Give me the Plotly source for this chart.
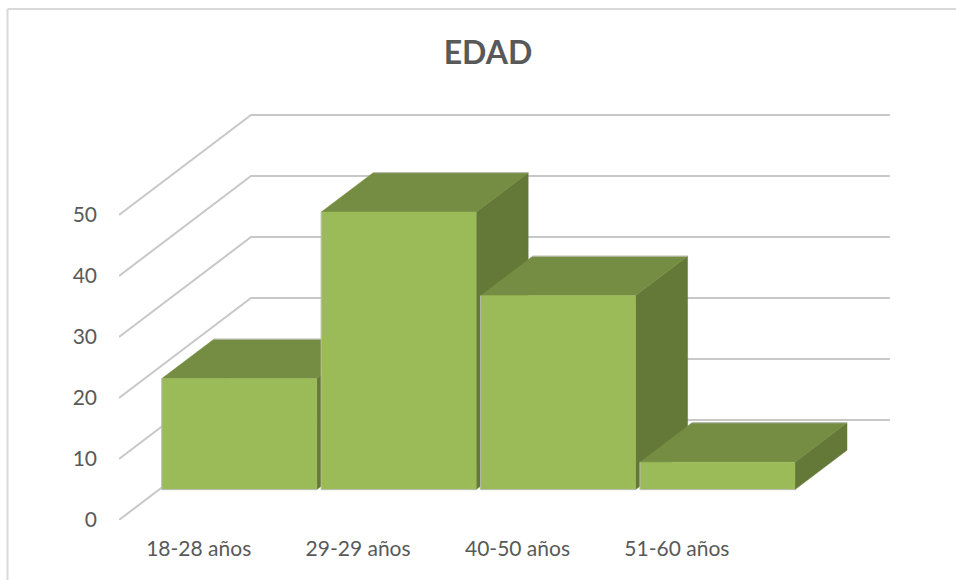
import plotly.graph_objects as go

categories = ["18-28 años", "29-29 años", "40-50 años", "51-60 años"]
values = [18.2, 45.5, 31.8, 4.5]
y_ticks = [0, 10, 20, 30, 40, 50]

W, H = 956, 580
PITCH = 159.4        # px per category
PX_PER_UNIT = 6.1    # px per value unit
LEFT, BASE = 119, 520
WALL_DX = 132 / PITCH        # depth of the floor, in category units
WALL_DY = 100 / PX_PER_UNIT  # depth of the floor, in value units
BAR_D0 = 0.304               # bar front, as fraction of the floor depth
BAR_D1 = 0.698               # bar back
BAR_WIDTH = 0.972
BAR_SHIFT = 0.003
WALL_RIGHT = 3.5 + 0.008     # last category edge at the back wall

FRONT, TOP, SIDE = "#9BBB59", "#758C43", "#647837"
GRID, EDGE, TEXT = "#C8C8C8", "#B9BBB2", "#595959"


def project(x, v, d):
    """Oblique projection: category x, value v, depth d (0 front, 1 back)."""
    return x + d * WALL_DX, v + d * WALL_DY


fig = go.Figure()

# Gridlines on the side wall and back wall
gx, gy = [], []
for t in y_ticks:
    for x, d in [(-0.5, 0), (-0.5, 1), (WALL_RIGHT, 1)]:
        px, py = project(x, t, d)
        gx.append(px)
        gy.append(py)
    gx.append(None)
    gy.append(None)
fig.add_trace(go.Scatter(x=gx, y=gy, mode="lines", showlegend=False, hoverinfo="skip",
                         line=dict(color=GRID, width=2)))


def face(corners, color):
    pts = [project(*c) for c in corners]
    fig.add_trace(go.Scatter(x=[p[0] for p in pts] + [pts[0][0]],
                             y=[p[1] for p in pts] + [pts[0][1]],
                             mode="lines", fill="toself", fillcolor=color,
                             line=dict(color=color, width=0.5),
                             showlegend=False, hoverinfo="skip"))


def edge(corners):
    pts = [project(*c) for c in corners]
    fig.add_trace(go.Scatter(x=[p[0] for p in pts], y=[p[1] for p in pts], mode="lines",
                             line=dict(color=EDGE, width=1),
                             showlegend=False, hoverinfo="skip"))


for i, v in enumerate(values):
    x0, x1 = i + BAR_SHIFT - BAR_WIDTH / 2, i + BAR_SHIFT + BAR_WIDTH / 2
    face([(x1, 0, BAR_D0), (x1, 0, BAR_D1), (x1, v, BAR_D1), (x1, v, BAR_D0)], SIDE)
    face([(x0, v, BAR_D0), (x1, v, BAR_D0), (x1, v, BAR_D1), (x0, v, BAR_D1)], TOP)
    edge([(x0, v, BAR_D1), (x1, v, BAR_D1)])
    face([(x0, 0, BAR_D0), (x1, 0, BAR_D0), (x1, v, BAR_D0), (x0, v, BAR_D0)], FRONT)
    edge([(x0, v, BAR_D0), (x0, 0, BAR_D0), (x1, 0, BAR_D0)])

frame = dict(color="#D9D9D9", width=2)
fig.update_layout(
    width=W, height=H, margin=dict(l=0, r=0, t=0, b=0),
    paper_bgcolor="white", plot_bgcolor="white", showlegend=False,
    font=dict(family="Lato, Carlito, sans-serif", color=TEXT, size=21),
    title=dict(text="<b>EDAD</b>", x=488 / W, y=1 - 53 / H, xanchor="center", yanchor="middle",
               font=dict(family="Lato, sans-serif", size=32, color=TEXT)),
    xaxis=dict(domain=[LEFT / W, 1], range=[-0.5, -0.5 + (W - LEFT) / PITCH],
               tickmode="array", tickvals=list(range(len(categories))), ticktext=categories,
               showgrid=False, zeroline=False, showline=False, ticks="", ticklabelstandoff=14,
               automargin=False, fixedrange=True),
    yaxis=dict(domain=[(H - BASE) / H, 1], range=[0, BASE / PX_PER_UNIT],
               tickmode="array", tickvals=y_ticks,
               showgrid=False, zeroline=False, showline=False, ticks="", ticklabelstandoff=21,
               automargin=False, fixedrange=True),
    shapes=[
        dict(type="line", xref="paper", yref="paper", x0=7.5 / W, x1=7.5 / W, y0=0, y1=1 - 9 / H, line=frame),
        dict(type="line", xref="paper", yref="paper", x0=7.5 / W, x1=1, y0=1 - 9 / H, y1=1 - 9 / H, line=frame),
    ],
)

fig.write_html("out.html", config={"displayModeBar": False},
               post_script="document.body.style.margin='0';document.body.style.overflow='hidden';")
